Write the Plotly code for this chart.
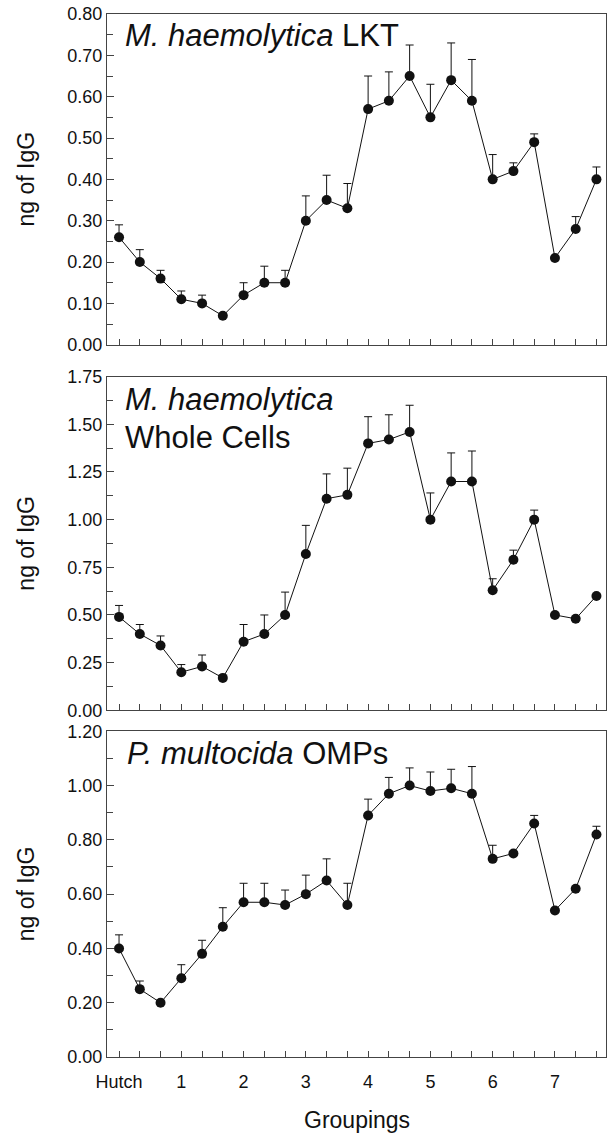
import plotly.graph_objects as go

# ---- data ----
positions = list(range(24))
group_labels = ["Hutch", "", "", "1", "", "", "2", "", "", "3", "", "", "4", "", "", "5", "", "", "6", "", "", "7", "", ""]

lkt_values = [0.26, 0.20, 0.16, 0.11, 0.10, 0.07, 0.12, 0.15, 0.15, 0.30, 0.35, 0.33,
              0.57, 0.59, 0.65, 0.55, 0.64, 0.59, 0.40, 0.42, 0.49, 0.21, 0.28, 0.40]
lkt_err = [0.03, 0.03, 0.02, 0.02, 0.02, 0.0, 0.03, 0.04, 0.03, 0.06, 0.06, 0.06,
           0.08, 0.07, 0.075, 0.08, 0.09, 0.10, 0.06, 0.02, 0.02, 0.0, 0.03, 0.03]

wc_values = [0.49, 0.40, 0.34, 0.20, 0.23, 0.17, 0.36, 0.40, 0.50, 0.82, 1.11, 1.13,
             1.40, 1.42, 1.46, 1.00, 1.20, 1.20, 0.63, 0.79, 1.00, 0.50, 0.48, 0.60]
wc_err = [0.06, 0.05, 0.05, 0.04, 0.06, 0.0, 0.09, 0.10, 0.12, 0.15, 0.13, 0.14,
          0.14, 0.13, 0.14, 0.14, 0.15, 0.16, 0.06, 0.05, 0.05, 0.0, 0.0, 0.0]

omp_values = [0.40, 0.25, 0.20, 0.29, 0.38, 0.48, 0.57, 0.57, 0.56, 0.60, 0.65, 0.56,
              0.89, 0.97, 1.00, 0.98, 0.99, 0.97, 0.73, 0.75, 0.86, 0.54, 0.62, 0.82]
omp_err = [0.05, 0.03, 0.0, 0.05, 0.05, 0.07, 0.07, 0.07, 0.055, 0.07, 0.08, 0.08,
           0.06, 0.06, 0.065, 0.07, 0.07, 0.10, 0.05, 0.0, 0.03, 0.0, 0.0, 0.03]

FONT = "Liberation Sans, Arial, Helvetica, sans-serif"
INK = "#111111"
FRAME = "#444444"

fig = go.Figure()

panels = [
    (lkt_values, lkt_err, "x", "y"),
    (wc_values, wc_err, "x2", "y2"),
    (omp_values, omp_err, "x3", "y3"),
]
for vals, errs, xa, ya in panels:
    fig.add_trace(go.Scatter(
        x=positions, y=vals, xaxis=xa, yaxis=ya,
        mode="lines+markers",
        line=dict(color=INK, width=1),
        marker=dict(color=INK, size=10),
        error_y=dict(type="data", symmetric=False, array=errs,
                     arrayminus=[0] * len(errs), color=INK,
                     thickness=1, width=4),
        showlegend=False,
    ))

xcommon = dict(range=[-0.58, 23.46], tickmode="array", tickvals=positions,
               ticks="inside", ticklen=6, tickcolor=FRAME, tickwidth=1,
               showline=True, linecolor=FRAME, linewidth=1, mirror=True,
               showgrid=False, zeroline=False, fixedrange=True)

ycommon = dict(ticks="inside", ticklen=7, tickcolor=FRAME, tickwidth=1,
               showline=True, linecolor=FRAME, linewidth=1, mirror=True,
               showgrid=False, zeroline=False, tickformat=".2f",
               tickfont=dict(family=FONT, size=18, color=INK))

fig.update_layout(
    width=611, height=1133,
    margin=dict(l=107, r=4, t=10, b=76),
    paper_bgcolor="white", plot_bgcolor="white",
    font=dict(family=FONT, color=INK),
    xaxis=dict(xcommon, domain=[0, 1], anchor="y", showticklabels=False),
    xaxis2=dict(xcommon, domain=[0, 1], anchor="y2", showticklabels=False),
    xaxis3=dict(xcommon, domain=[0, 1], anchor="y3", showticklabels=True,
                ticktext=group_labels, ticklabelstandoff=8,
                tickfont=dict(family=FONT, size=18, color=INK)),
    yaxis=dict(ycommon, domain=[0.6829, 1.0], anchor="x", range=[0, 0.80], dtick=0.1,
               minor=dict(dtick=0.05, ticks="inside", ticklen=6, tickcolor=FRAME, showgrid=False)),
    yaxis2=dict(ycommon, domain=[0.3324, 0.6523], anchor="x2", range=[0, 1.75], dtick=0.25,
                minor=dict(dtick=0.125, ticks="inside", ticklen=6, tickcolor=FRAME, showgrid=False)),
    yaxis3=dict(ycommon, domain=[0, 0.3123], anchor="x3", range=[0, 1.20], dtick=0.2,
                minor=dict(dtick=0.1, ticks="inside", ticklen=6, tickcolor=FRAME, showgrid=False)),
)

title_font = dict(family=FONT, size=31, color=INK)
ann = [
    dict(text="<i>M. haemolytica</i> LKT", x=0.032, y=0.979),
    dict(text="<i>M. haemolytica</i>", x=0.032, y=0.6304),
    dict(text="Whole Cells", x=0.032, y=0.5941),
    dict(text="<i>P. multocida</i> OMPs", x=0.036, y=0.2913),
]
for a in ann:
    fig.add_annotation(xref="paper", yref="paper", xanchor="left", yanchor="middle",
                       showarrow=False, font=title_font, **a)

# y-axis titles
for yc in [(0.6829 + 1.0) / 2, (0.3324 + 0.6523) / 2, 0.3123 / 2]:
    fig.add_annotation(text="ng of IgG", xref="paper", yref="paper",
                       x=-0.162, y=yc, xanchor="center", yanchor="middle",
                       textangle=-90, showarrow=False,
                       font=dict(family=FONT, size=23, color=INK))

fig.add_annotation(text="Groupings", xref="paper", yref="paper", x=0.5, y=-0.0602,
                   xanchor="center", yanchor="middle", showarrow=False,
                   font=dict(family=FONT, size=23, color=INK))

fig.write_html("out.html", config={"displayModeBar": False},
               post_script="document.body.style.margin='0';document.body.style.overflow='hidden';")
